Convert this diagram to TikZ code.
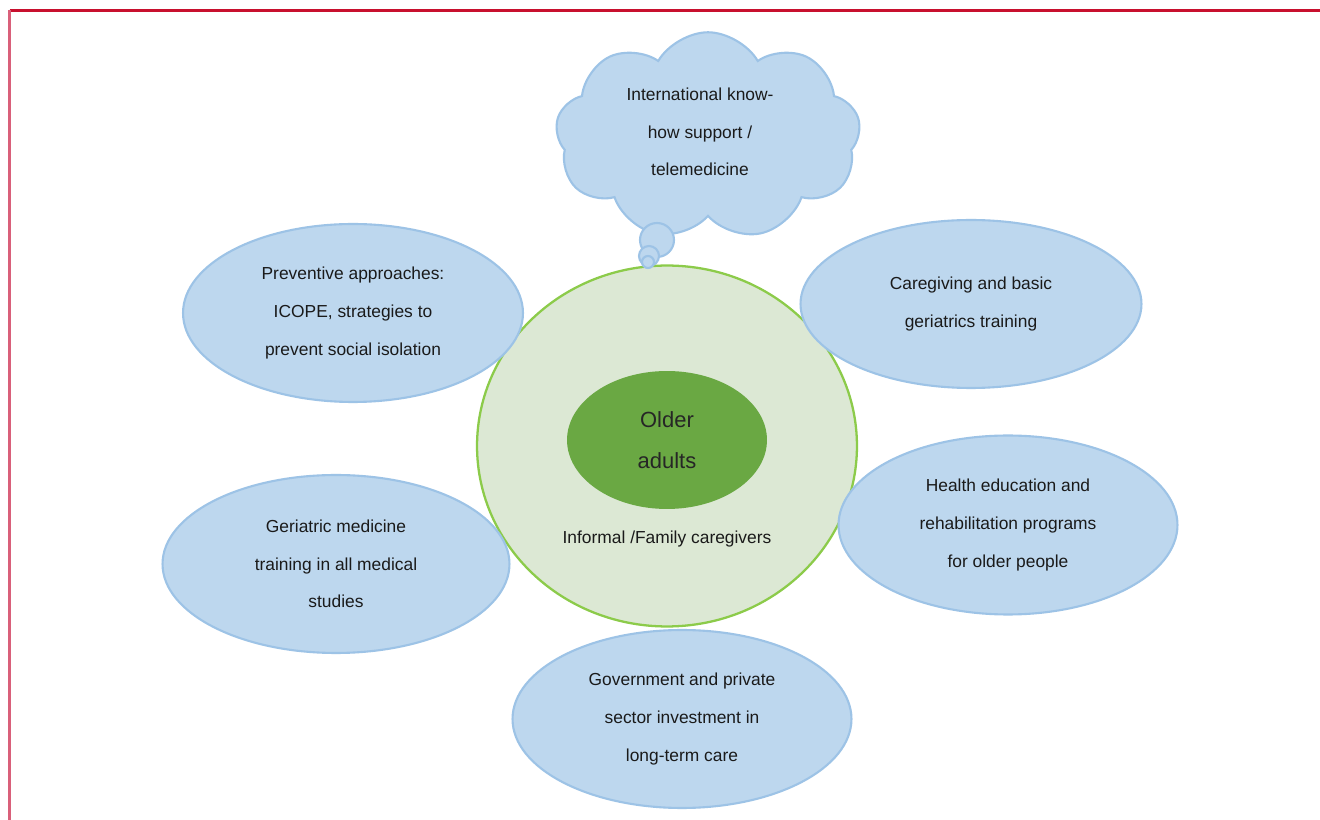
\documentclass[tikz,border=0pt]{standalone}
\usepackage{fontspec}
\setmainfont{Liberation Sans}
\usetikzlibrary{shapes.geometric,shapes.symbols}
\definecolor{bfill}{HTML}{BDD7EE}
\definecolor{bline}{HTML}{9DC3E6}
\definecolor{gfill}{HTML}{DCE8D4}
\definecolor{gline}{HTML}{8CCB4A}
\definecolor{gin}{HTML}{6AA843}
\definecolor{redA}{HTML}{C8102E}
\definecolor{redB}{HTML}{D9607A}
\definecolor{txt}{HTML}{1A1A1A}
\tikzset{
  blob/.style={ellipse, draw=bline, fill=bfill, line width=1.2pt, inner sep=0pt, text=txt,
    font=\fontsize{9.9}{21.4}\selectfont, align=center},
  bub/.style={circle, draw=bline, fill=bfill, line width=1.2pt, inner sep=0pt},
}
\begin{document}
\begin{tikzpicture}[x=0.02cm,y=-0.02cm]
\useasboundingbox (0,0) rectangle (1320,820);
\fill[white] (0,0) rectangle (1320,820);
\coordinate (tl) at (9.5,10.5);
\coordinate (tr) at (1320,10.5);
\coordinate (bl) at (9.5,820);
\draw[redA, line width=1.5pt] (tl) -- (tr);
\draw[redB, line width=2pt] (tl) -- (bl);
% outer circle
\node[ellipse, draw=gline, fill=gfill, line width=1.3pt, minimum width=7.6cm, minimum height=7.22cm] (outer) at (667,446) {};
\node[text=txt, font=\fontsize{9.9}{12}\selectfont] (fam) at (667,539) {Informal /Family caregivers};
% blue ellipses
\node[blob, minimum width=6.8cm, minimum height=3.56cm] (prev) at (353,313) {Preventive approaches:\\ICOPE, strategies to\\prevent social isolation};
\node[blob, minimum width=6.82cm, minimum height=3.36cm] (care) at (971,304) {Caregiving and basic\\geriatrics training};
\node[blob, minimum width=6.94cm, minimum height=3.56cm] (geri) at (336,564) {Geriatric medicine\\training in all medical\\studies};
\node[blob, minimum width=6.78cm, minimum height=3.58cm] (heal) at (1008,525) {Health education and\\rehabilitation programs\\for older people};
\node[blob, minimum width=6.78cm, minimum height=3.56cm] (gov) at (682,719) {Government and private\\sector investment in\\long-term care};
% inner
\node[ellipse, fill=gin, minimum width=4cm, minimum height=2.76cm, inner sep=0pt, align=center,
  text=black!85, font=\fontsize{12.5}{23}\selectfont] (old) at (667,440) {Older\\adults};
% cloud
\node[cloud, cloud puffs=9, cloud puff arc=120, aspect=1.45, draw=bline, fill=bfill, line width=1.2pt,
  minimum width=6.1cm, minimum height=4.15cm, inner sep=0pt] (cloud) at (708,136) {};
\node[text=txt, align=center, font=\fontsize{9.9}{21.4}\selectfont] (ctext) at (700,132) {International know-\\how support /\\telemedicine};
\node[bub, minimum size=0.68cm] (b1) at (657,240) {};
\node[bub, minimum size=0.4cm] (b2) at (649,256) {};
\node[bub, minimum size=0.24cm] (b3) at (648,262) {};
\end{tikzpicture}
\end{document}
